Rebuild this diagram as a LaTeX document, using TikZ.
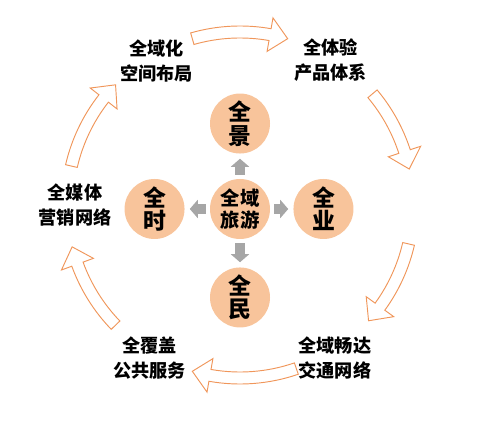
\documentclass[tikz,border=0pt]{standalone}
\usepackage{fontspec}
\setmainfont{Noto Sans CJK SC}
\usepackage{tikz}
\usetikzlibrary{arrows.meta,calc,positioning}
\definecolor{ringorange}{RGB}{240,150,90}
\definecolor{discfill}{RGB}{248,196,155}
\definecolor{spokegray}{RGB}{166,166,166}

\begin{document}
\begin{tikzpicture}[font=\bfseries,
  disc/.style={circle,fill=discfill,minimum size=1.8cm,inner sep=0pt,align=center,
    font=\bfseries\fontsize{19.5}{20}\selectfont},
  hubtext/.style={font=\bfseries\fontsize{16.5}{18.5}\selectfont},
  ringtext/.style={align=center,font=\bfseries\fontsize{15.5}{21.3}\selectfont},
  spoke/.style={spokegray,line width=0.3cm,-{Triangle[length=0.24cm,width=0.54cm]},
    shorten <=0.12cm,shorten >=0.15cm},
  bentarrow/.style={draw=ringorange,fill=white,line width=0.8pt,line join=miter}]
\useasboundingbox (0,0) rectangle (14.52,13.2);
% centre and the four discs round it
\node[disc,hubtext] (hub) at (7.2,6.93) {全域\\旅游};
\node[disc,above=0.75cm of hub] (jing) {全\\景};
\node[disc,left=0.75cm of hub] (shi) {全\\时};
\node[disc,right=0.69cm of hub] (ye) {全\\业};
\node[disc,below=0.84cm of hub] (min) {全\\民};
\foreach \n in {jing,shi,ye,min}{\draw[spoke] (hub)--(\n);}
% ring of bent arrows, clockwise
\coordinate (ring) at ($(hub)+(0,0.12)$);
\foreach \a/\b in {106/74,40/12,-13/-42,-71/-106,-136/-166,167/136}{
  \pgfmathsetmacro\c{\b+6}
  \draw[bentarrow] ($(ring)+(\a:5.37)$) arc[start angle=\a,end angle=\c,radius=5.37]
    -- ($(ring)+(\c:5.70)$) -- ($(ring)+(\b:5.19)$) -- ($(ring)+(\c:4.68)$)
    -- ($(ring)+(\c:5.01)$) arc[start angle=\c,end angle=\a,radius=5.01] -- cycle;
}
% labels in the gaps of the ring
\node[ringtext] (kongjian) at ($(ring)+(120:5.0)$) {全域化\\空间布局};
\node[ringtext] (chanpin) at ($(ring)+(58:5.12)$) {全体验\\产品体系};
\node[ringtext] (yingxiao) at ($(ring)+(180:4.95)$) {全媒体\\营销网络};
\node[ringtext] (gonggong) at ($(ring)+(-120.5:5.33)$) {全覆盖\\公共服务};
\node[ringtext] (jiaotong) at ($(ring)+(-58.2:5.4)$) {全域畅达\\交通网络};
\end{tikzpicture}
\end{document}
